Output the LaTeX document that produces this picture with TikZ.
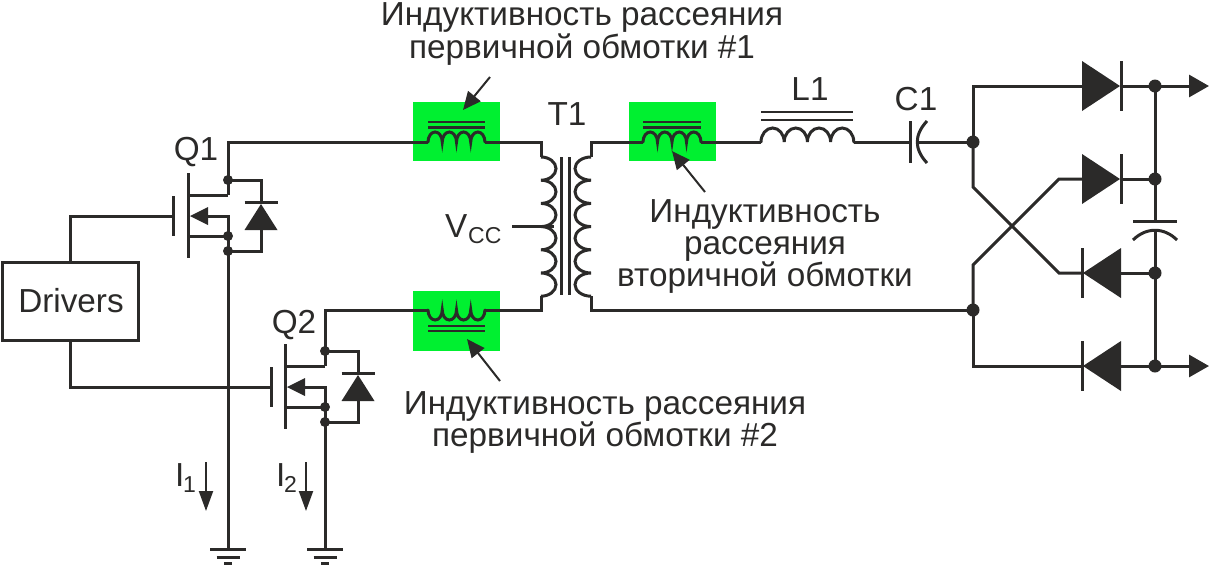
\documentclass[tikz,border=0pt]{standalone}
\usepackage{fontspec}
\setmainfont{Liberation Sans}
\usetikzlibrary{arrows.meta,calc}
\definecolor{ink}{HTML}{2B2A29}
\definecolor{hl}{HTML}{00F030}
\tikzset{
  wire/.style={draw=ink,line width=3pt,line join=miter},
  corebar/.style={draw=ink,line width=2.4pt},
  dotS/.style={circle,fill=ink,inner sep=0pt,minimum size=10pt},
  dotB/.style={circle,fill=ink,inner sep=0pt,minimum size=13pt},
  greenbox/.style={fill=hl,draw=none,inner sep=0pt,anchor=north west},
  lbl/.style={text=ink,font=\fontsize{33.3}{33.3}\selectfont,inner sep=0pt,anchor=base},
  callout/.style={draw=ink,line width=2pt,-{Triangle[length=18pt,width=16pt]}},
  current/.style={draw=ink,line width=2pt,-{Triangle[length=20pt,width=14pt]}},
  outarrow/.style={draw=ink,line width=3pt,-{Triangle[length=20pt,width=22pt]}},
  humpsUp/.pic={\draw[wire,line cap=round] (0,0)
     arc[start angle=180,end angle=360,x radius=#1,y radius=10]
     arc[start angle=180,end angle=360,x radius=#1,y radius=10]
     arc[start angle=180,end angle=360,x radius=#1,y radius=10]
     arc[start angle=180,end angle=360,x radius=#1,y radius=10];},
  humpsTall/.pic={\draw[wire,line cap=round] (0,0)
     arc[start angle=180,end angle=360,x radius=#1,y radius=14]
     arc[start angle=180,end angle=360,x radius=#1,y radius=14]
     arc[start angle=180,end angle=360,x radius=#1,y radius=14]
     arc[start angle=180,end angle=360,x radius=#1,y radius=14];},
  humpsDown/.pic={\draw[wire,line cap=round] (0,0)
     arc[start angle=180,end angle=0,x radius=#1,y radius=10]
     arc[start angle=180,end angle=0,x radius=#1,y radius=10]
     arc[start angle=180,end angle=0,x radius=#1,y radius=10]
     arc[start angle=180,end angle=0,x radius=#1,y radius=10];},
  vdiode/.pic={\fill[ink] (0,0)--(-16.5,26)--(16.5,26)--cycle;
     \draw[wire] (-16.5,-2)--(16.5,-2);},
  rdiode/.pic={\fill[ink] (0,0)--(-38,-25)--(-38,25)--cycle;
     \draw[wire] (1,-25)--(1,25);},
  ldiode/.pic={\fill[ink] (0,0)--(38,-25)--(38,25)--cycle;
     \draw[wire] (-1,-25)--(-1,25);},
  gnd/.pic={\draw[wire] (-18,0)--(18,0);
     \draw[wire] (-11.5,8)--(11.5,8);
     \draw[wire] (-4,14)--(4,14);}
}
\begin{document}
\begin{tikzpicture}[x=1pt,y=-1pt]
\useasboundingbox (0,0) rectangle (1210,566);
% highlighted leakage inductances
\node[greenbox,minimum width=87pt,minimum height=59pt] (g1) at (413,102) {};
\node[greenbox,minimum width=87pt,minimum height=59pt] (g2) at (629,102) {};
\node[greenbox,minimum width=87pt,minimum height=60pt] (g3) at (413,291) {};
% driver
\node[draw=ink,line width=3pt,minimum width=136pt,minimum height=78pt,inner sep=0pt,anchor=north west] (drv) at (1,260.5) {};
\node[lbl] (drvt) at (71,312) {Drivers};
% named points
\coordinate (q1top) at (228,142);
\coordinate (d1a) at (228,180);
\coordinate (d1b) at (228,236);
\coordinate (d1c) at (228,251);
\coordinate (d2a) at (325,351);
\coordinate (d2b) at (325,407);
\coordinate (d2c) at (325,422);
\coordinate (g1p) at (228,549);
\coordinate (g2p) at (325,549);
\coordinate (l1in) at (428,142);
\coordinate (l1out) at (485,142);
\coordinate (l3in) at (428,310);
\coordinate (l3out) at (485,310);
\coordinate (l2in) at (643,142);
\coordinate (l2out) at (701,142);
\coordinate (ltin) at (761,142);
\coordinate (ltout) at (854,142);
\coordinate (prit) at (541,157);
\coordinate (prib) at (541,296);
\coordinate (sect) at (591,157);
\coordinate (secb) at (591,296);
\coordinate (c1a) at (910,142);
\coordinate (c1b) at (919,142);
\coordinate (bus1) at (973,142);
\coordinate (bus2) at (973,310);
\coordinate (bustop) at (1155,86);
\coordinate (busb2) at (1155,179);
\coordinate (busb3) at (1155,273);
\coordinate (busbot) at (1155,366);
\coordinate (capT) at (1155,221);
\coordinate (capB) at (1155,231);
% MOSFET Q1
\draw[wire] (drv.north -| 70,262) -- (70,216) -- (173,216);
\draw[wire] (173,196) -- (173,236);
\draw[wire] (188,173) -- (188,258);
\draw[wire] (188,195) -- (228,195);
\draw[wire] (188,236) -- (d1b);
\draw[wire] (205,216) -- (228,216) -- (d1b);
\fill[ink] (190,216) -- (208,207) -- (208,225) -- cycle;
\draw[wire] (l1in) -- (q1top) -- (d1a) -- (228,195);
\draw[wire] (d1b) -- (g1p);
\draw[wire] (d1a) -- (261,180) -- (261,204);
\draw[wire] (261,228) -- (261,251) -- (d1c);
\pic at (261,204) {vdiode};
\node[dotS] (n1) at (d1a) {};
\node[dotS] (n2) at (d1b) {};
\node[dotS] (n3) at (d1c) {};
% MOSFET Q2
\draw[wire] (drv.south -| 70,340) -- (70,387) -- (271,387);
\draw[wire] (271,367) -- (271,407);
\draw[wire] (285,344) -- (285,429);
\draw[wire] (285,366) -- (325,366);
\draw[wire] (285,407) -- (d2b);
\draw[wire] (302,387) -- (325,387) -- (d2b);
\fill[ink] (287,387) -- (305,378) -- (305,396) -- cycle;
\draw[wire] (l3in) -- (325,310) -- (d2a) -- (325,366);
\draw[wire] (d2b) -- (g2p);
\draw[wire] (d2a) -- (358,351) -- (358,375);
\draw[wire] (358,399) -- (358,422) -- (d2c);
\pic at (358,375) {vdiode};
\node[dotS] (n4) at (d2a) {};
\node[dotS] (n5) at (d2b) {};
\node[dotS] (n6) at (d2c) {};
% grounds
\pic at (g1p) {gnd};
\pic at (g2p) {gnd};
% leakage inductors
\pic at (l1in) {humpsUp=7.12};
\draw[corebar] (428,122) -- (485,122) (428,127.5) -- (485,127.5);
\pic at (l3in) {humpsDown=7.12};
\draw[corebar] (428,326) -- (485,326) (428,331) -- (485,331);
\pic at (l2in) {humpsUp=7.25};
\draw[corebar] (643,122) -- (701,122) (643,127.5) -- (701,127.5);
\pic at (ltin) {humpsTall=11.6};
\draw[corebar] (761,112) -- (853,112) (761,120) -- (853,120);
% transformer
\draw[wire] (l1out) -- (541,142) -- (prit);
\draw[wire] (l3out) -- (541,310) -- (prib);
\draw[wire] (541,157) arc[start angle=-90,end angle=90,x radius=15,y radius=11.6]
  arc[start angle=-90,end angle=90,x radius=15,y radius=11.6]
  arc[start angle=-90,end angle=90,x radius=15,y radius=11.6]
  arc[start angle=-90,end angle=90,x radius=15,y radius=11.6]
  arc[start angle=-90,end angle=90,x radius=15,y radius=11.6]
  arc[start angle=-90,end angle=90,x radius=15,y radius=11.6];
\draw[wire] (561,157) -- (561,295) (569,157) -- (569,295);
\draw[wire] (591,157) arc[start angle=270,end angle=90,x radius=16,y radius=11.6]
  arc[start angle=270,end angle=90,x radius=16,y radius=11.6]
  arc[start angle=270,end angle=90,x radius=16,y radius=11.6]
  arc[start angle=270,end angle=90,x radius=16,y radius=11.6]
  arc[start angle=270,end angle=90,x radius=16,y radius=11.6]
  arc[start angle=270,end angle=90,x radius=16,y radius=11.6];
\coordinate (vccend) at (512,226);
\draw[wire] (vccend) -- (554,226);
\draw[wire] (l2in) -- (591,142) -- (sect);
\draw[wire] (secb) -- (591,310) -- (bus2);
\draw[wire] (l2out) -- (ltin);
\draw[wire] (ltout) -- (c1a);
\draw[wire] (910,121) -- (910,163);
\draw[wire] (927,121) .. controls (914,135) and (914,149) .. (927,163);
\draw[wire] (c1b) -- (bus1);
% bridge
\draw[wire] (bus1) -- (973,86) -- (1083,86);
\draw[wire] (bus1) -- (973,187) -- (1059,273) -- (1083,273);
\draw[wire] (bus2) -- (973,265) -- (1059,179) -- (1083,179);
\draw[wire] (bus2) -- (973,366) -- (1083,366);
\pic at (1120,86) {rdiode};
\pic at (1120,179) {rdiode};
\pic at (1083,273) {ldiode};
\pic at (1083,366) {ldiode};
\draw[wire] (1120,179) -- (busb2);
\draw[wire] (1121,273) -- (busb3);
\draw[wire] (bustop) -- (capT);
\draw[wire] (capB) -- (busbot);
\draw[wire] (1133,221) -- (1177,221);
\draw[wire] (1133,240) .. controls (1146,227) and (1164,227) .. (1177,240);
\node[dotB] (n7) at (bus1) {};
\node[dotB] (n8) at (bus2) {};
\node[dotB] (n9) at (bustop) {};
\node[dotB] (n10) at (busb2) {};
\node[dotB] (n11) at (busb3) {};
\node[dotB] (n12) at (busbot) {};
\coordinate (o1) at (1209,86);
\coordinate (o2) at (1209,366);
\draw[outarrow] (1120,86) -- (o1);
\draw[outarrow] (1120,366) -- (o2);
% labels
\node[lbl] (tq1) at (196,160) {Q1};
\node[lbl] (tq2) at (294,333) {Q2};
\node[lbl] (tt1) at (567,125) {T1};
\node[lbl] (tl1) at (810,100) {L1};
\node[lbl] (tc1) at (916,110) {C1};
\node[lbl,anchor=base west] (tv) at (445,237) {V};
\node[lbl,anchor=base west,font=\fontsize{23}{23}\selectfont] (tvs) at (468,243) {CC};
\node[lbl,anchor=base west] (ti1) at (175,486) {I};
\node[lbl,anchor=base west,font=\fontsize{23}{23}\selectfont] (ti1s) at (183,492) {1};
\node[lbl,anchor=base west] (ti2) at (276,486) {I};
\node[lbl,anchor=base west,font=\fontsize{23}{23}\selectfont] (ti2s) at (284,492) {2};
\node[lbl] (a1) at (582,25) {Индуктивность рассеяния};
\node[lbl] (a2) at (582,58) {первичной обмотки \#1};
\node[lbl] (b1) at (765,222) {Индуктивность};
\node[lbl] (b2) at (765,254) {рассеяния};
\node[lbl] (b3) at (765,286) {вторичной обмотки};
\node[lbl] (c3) at (605,414) {Индуктивность рассеяния};
\node[lbl] (c4) at (605,446) {первичной обмотки \#2};
% callouts
\coordinate (t1) at (463,110);
\coordinate (s1) at (490,77);
\coordinate (t2) at (672,151);
\coordinate (s2) at (705,192);
\coordinate (t3) at (467,339);
\coordinate (s3) at (500,381);
\draw[callout] (s1) -- (t1);
\draw[callout] (s2) -- (t2);
\draw[callout] (s3) -- (t3);
\coordinate (c1s) at (206,462);
\coordinate (c1e) at (206,511);
\coordinate (c2s) at (306,462);
\coordinate (c2e) at (306,511);
\draw[current] (c1s) -- (c1e);
\draw[current] (c2s) -- (c2e);
\end{tikzpicture}
\end{document}
